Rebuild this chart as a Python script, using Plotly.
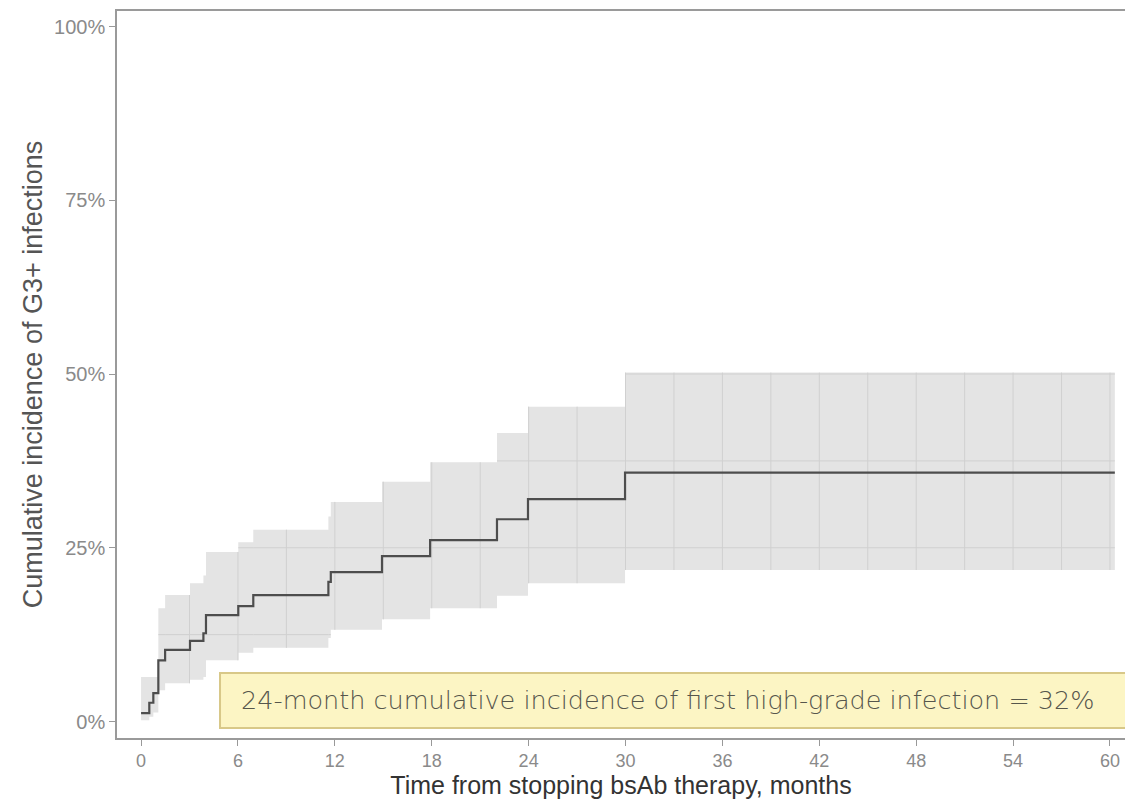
import plotly.graph_objects as go

# Step-function data (months, %)
step_times = [0.0, 0.51, 0.76, 1.07, 1.49, 3.03, 3.86, 4.02, 6.02, 6.95, 11.6, 11.75, 14.92, 17.9, 22.04, 23.96, 29.97]
end_time = 60.3
estimate = [1.2, 2.7, 4.1, 8.8, 10.3, 11.6, 12.7, 15.3, 16.6, 18.2, 20.1, 21.5, 23.8, 26.1, 29.1, 32.0, 35.8]
ci_lower = [0.2, 0.7, 1.3, 4.5, 5.5, 6.0, 6.4, 8.8, 9.9, 10.6, 12.0, 13.2, 14.7, 16.3, 18.1, 19.9, 21.8]
ci_upper = [6.4, 6.4, 6.4, 16.3, 18.2, 19.9, 21.0, 24.4, 25.8, 27.6, 29.5, 31.6, 34.5, 37.3, 41.5, 45.3, 50.2]

x_ticks = [0, 6, 12, 18, 24, 30, 36, 42, 48, 54, 60]
y_ticks = [0, 25, 50, 75, 100]
y_tick_labels = ["0%", "25%", "50%", "75%", "100%"]
x_grid = [3 * k for k in range(1, 21)]
y_grid = [12.5, 25, 37.5, 50]

x_title = "Time from stopping bsAb therapy, months"
y_title = "Cumulative incidence of G3+ infections"
note = "24-month cumulative incidence of first high-grade infection = 32%"

xs = step_times + [end_time]
def ext(v):
    return v + [v[-1]]

def idx_at(t):
    i = 0
    for k, s in enumerate(step_times):
        if s <= t:
            i = k
    return i

# gridline segments visible inside the confidence band
gx, gy = [], []
for g in x_grid:
    if g <= end_time:
        i = idx_at(g)
        gx += [g, g, None]
        gy += [ci_lower[i], ci_upper[i], None]
for h in y_grid:
    for i in range(len(step_times)):
        if ci_lower[i] <= h <= ci_upper[i]:
            gx += [xs[i], xs[i + 1], None]
            gy += [h, h, None]

fig = go.Figure()
fig.add_trace(go.Scatter(x=xs, y=ext(ci_lower), mode="lines", line=dict(shape="hv", width=0, color="#e3e3e3"),
                         showlegend=False, hoverinfo="skip"))
fig.add_trace(go.Scatter(x=xs, y=ext(ci_upper), mode="lines", line=dict(shape="hv", width=0, color="#e3e3e3"),
                         fill="tonexty", fillcolor="#e4e4e4", showlegend=False, hoverinfo="skip"))
fig.add_trace(go.Scatter(x=gx, y=gy, mode="lines", line=dict(width=1, color="#d0d0d0"),
                         showlegend=False, hoverinfo="skip"))
fig.add_trace(go.Scatter(x=xs, y=ext(estimate), mode="lines", line=dict(shape="hv", width=2.2, color="#4d4d4d"),
                         showlegend=False))

bx0, bx1, by0, by1 = 0.1022, 1.003, 0.0138, 0.0894
fig.add_shape(type="rect", xref="paper", yref="paper", x0=bx0, x1=bx1, y0=by0, y1=by1,
              fillcolor="#fcf5c4", line=dict(color="#d8c888", width=2), layer="above")
fig.add_annotation(xref="paper", yref="paper", x=(bx0 + bx1) / 2 - 0.006, y=(by0 + by1) / 2,
                   xanchor="center", yanchor="middle", text=note, showarrow=False,
                   font=dict(family="DejaVu Sans", size=25.5, weight=300, color="#56564c"))

fig.update_layout(
    width=1117, height=791,
    margin=dict(l=109, r=0, t=3, b=61),
    paper_bgcolor="white", plot_bgcolor="white",
    font=dict(family="Liberation Sans, Arial", color="#555"),
    xaxis=dict(range=[-1.49, 60.93], tickvals=x_ticks, ticks="outside", ticklen=6, tickcolor="#999",
               showgrid=False, zeroline=False, showline=True, linecolor="#9a9a9a", linewidth=1.5, mirror=True,
               tickfont=dict(size=18, color="#8a8a8a"),
               title=dict(text=x_title, font=dict(size=25, color="#333"), standoff=9)),
    yaxis=dict(range=[-2.37, 102.23], tickvals=y_ticks, ticktext=y_tick_labels, ticks="outside", ticklen=6,
               tickcolor="#999", showgrid=False, zeroline=False, showline=True, linecolor="#9a9a9a",
               linewidth=1.5, mirror=False, tickfont=dict(size=20, color="#8a8a8a"),
               title=dict(text=y_title, font=dict(size=27, color="#555"), standoff=4)),
)

fig.write_html("out.html")
